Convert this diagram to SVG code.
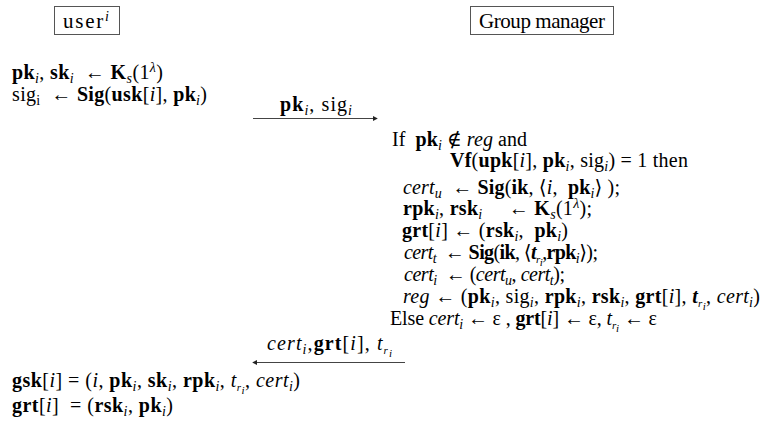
<svg xmlns="http://www.w3.org/2000/svg" width="763" height="428" viewBox="0 0 763 428">
  <style>
    .t { font-family: "Liberation Serif", "DejaVu Serif", serif; font-size: 20px; fill: #000; }
    .h { font-size: 21px; }
    .b { font-weight: bold; }
    .i { font-style: italic; }
    .bi { font-weight: bold; font-style: italic; }
    .s { font-size: 14px; font-style: italic; }
    .ss { font-size: 11px; font-style: italic; }
    .box { fill: #fff; stroke: #555; stroke-width: 1; }
    .msg { stroke: #444; stroke-width: 1; fill: none; }
  </style>
  <defs>
    <marker id="head" viewBox="0 0 6 6" refX="5" refY="3" markerWidth="5" markerHeight="5" orient="auto">
      <path d="M0,0 L6,3 L0,6 z" fill="#222"/>
    </marker>
  </defs>
  <rect width="763" height="428" fill="#fff"/>

  <!-- parties -->
  <g id="user">
    <rect class="box" x="54.5" y="6.5" width="65" height="28"/>
    <text class="t h" x="63" y="28" textLength="46" lengthAdjust="spacing">user<tspan class="s" baseline-shift="7">i</tspan></text>
  </g>
  <g id="manager">
    <rect class="box" x="470.5" y="6.5" width="143" height="28"/>
    <text class="t h" x="542" y="28" text-anchor="middle" textLength="126" lengthAdjust="spacing">Group manager</text>
  </g>

  <!-- user side: key generation and signature -->
  <g id="user-keys">
    <text class="t" x="12" y="79" textLength="151" lengthAdjust="spacing"><tspan class="b">pk</tspan><tspan class="s" baseline-shift="-4">i</tspan>, <tspan class="b">sk</tspan><tspan class="s" baseline-shift="-4">i</tspan>&#160; ← <tspan class="b">K</tspan><tspan class="s" baseline-shift="-4">s</tspan>(1<tspan class="s" baseline-shift="7">λ</tspan>)</text>
    <text class="t" x="12" y="101" textLength="195" lengthAdjust="spacing">sig<tspan font-size="14" baseline-shift="-4">i</tspan>&#160; ← <tspan class="b">Sig</tspan>(<tspan class="b">usk</tspan>[<tspan class="i">i</tspan>], <tspan class="b">pk</tspan><tspan class="s" baseline-shift="-4">i</tspan>)</text>
  </g>

  <!-- manager side: checks and issuing -->
  <g id="manager-steps">
    <text class="t" x="392" y="146" textLength="135" lengthAdjust="spacing">If&#160; <tspan class="b">pk</tspan><tspan class="s" baseline-shift="-4">i</tspan> ∉ <tspan class="i">reg</tspan> and</text>
    <text class="t" x="450" y="167" textLength="238" lengthAdjust="spacing"><tspan class="b">Vf</tspan>(<tspan class="b">upk</tspan>[<tspan class="i">i</tspan>], <tspan class="b">pk</tspan><tspan class="s" baseline-shift="-4">i</tspan>, sig<tspan class="s" baseline-shift="-4">i</tspan>) = 1 then</text>
    <text class="t" x="403" y="194" textLength="217" lengthAdjust="spacing"><tspan class="i">cert</tspan><tspan class="s" baseline-shift="-4">u</tspan>&#160; ← <tspan class="b">Sig</tspan>(<tspan class="b">ik</tspan>, ⟨<tspan class="i">i</tspan>,&#160; <tspan class="b">pk</tspan><tspan class="s" baseline-shift="-4">i</tspan>⟩ );</text>
    <text class="t" x="403" y="215" textLength="189" lengthAdjust="spacing"><tspan class="b">rpk</tspan><tspan class="s" baseline-shift="-4">i</tspan>, <tspan class="b">rsk</tspan><tspan class="s" baseline-shift="-4">i</tspan>&#160;&#160;&#160;&#160; ← <tspan class="b">K</tspan><tspan class="s" baseline-shift="-4">s</tspan>(1<tspan class="s" baseline-shift="7">λ</tspan>);</text>
    <text class="t" x="402" y="237" textLength="166" lengthAdjust="spacing"><tspan class="b">grt</tspan>[<tspan class="i">i</tspan>] ← (<tspan class="b">rsk</tspan><tspan class="s" baseline-shift="-4">i</tspan>,&#160; <tspan class="b">pk</tspan><tspan class="s" baseline-shift="-4">i</tspan>)</text>
    <text class="t" x="404" y="259" textLength="194" lengthAdjust="spacing"><tspan class="i">cert</tspan><tspan class="s" baseline-shift="-4">t</tspan>&#160; ← <tspan class="b">Sig</tspan>(<tspan class="b">ik</tspan>, ⟨<tspan class="bi">t</tspan><tspan class="ss" baseline-shift="-4">r</tspan><tspan class="ss" baseline-shift="-7">i</tspan>,<tspan class="b">rpk</tspan><tspan class="s" baseline-shift="-4">i</tspan>⟩);</text>
    <text class="t" x="404" y="281" textLength="161" lengthAdjust="spacing"><tspan class="i">cert</tspan><tspan class="s" baseline-shift="-4">i</tspan>&#160; ← (<tspan class="i">cert</tspan><tspan class="s" baseline-shift="-4">u</tspan>, <tspan class="i">cert</tspan><tspan class="s" baseline-shift="-4">t</tspan>);</text>
    <text class="t" x="403" y="303" textLength="357" lengthAdjust="spacing"><tspan class="i">reg</tspan> ← (<tspan class="b">pk</tspan><tspan class="s" baseline-shift="-4">i</tspan>, sig<tspan class="s" baseline-shift="-4">i</tspan>, <tspan class="b">rpk</tspan><tspan class="s" baseline-shift="-4">i</tspan>, <tspan class="b">rsk</tspan><tspan class="s" baseline-shift="-4">i</tspan>, <tspan class="b">grt</tspan>[<tspan class="i">i</tspan>], <tspan class="bi">t</tspan><tspan class="ss" baseline-shift="-4">r</tspan><tspan class="ss" baseline-shift="-7">i</tspan>, <tspan class="i">cert</tspan><tspan class="s" baseline-shift="-4">i</tspan>)</text>
    <text class="t" x="390" y="325" textLength="267" lengthAdjust="spacing">Else <tspan class="i">cert</tspan><tspan class="s" baseline-shift="-4">i</tspan> ← ε , <tspan class="b">grt</tspan>[<tspan class="i">i</tspan>] ← ε, <tspan class="i">t</tspan><tspan class="ss" baseline-shift="-4">r</tspan><tspan class="ss" baseline-shift="-7">i</tspan> ← ε</text>
  </g>

  <!-- messages -->
  <g id="connectors">
    <line class="msg" x1="253" y1="118.5" x2="377" y2="118.5" marker-end="url(#head)"/>
    <line class="msg" x1="405" y1="362.5" x2="253" y2="362.5" marker-end="url(#head)"/>
  </g>
  <g id="labels">
    <text class="t" x="280" y="111" textLength="72" lengthAdjust="spacing"><tspan class="b">pk</tspan><tspan class="s" baseline-shift="-4">i</tspan>, sig<tspan class="s" baseline-shift="-4">i</tspan></text>
    <text class="t" x="267" y="350" textLength="125" lengthAdjust="spacing"><tspan class="i">cert</tspan><tspan class="s" baseline-shift="-4">i</tspan>,<tspan class="b">grt</tspan>[<tspan class="i">i</tspan>], <tspan class="i">t</tspan><tspan class="ss" baseline-shift="-4">r</tspan><tspan class="ss" baseline-shift="-7">i</tspan></text>
  </g>

  <!-- user side: resulting group keys -->
  <g id="user-result">
    <text class="t" x="12" y="387" textLength="288" lengthAdjust="spacing"><tspan class="b">gsk</tspan>[<tspan class="i">i</tspan>] = (<tspan class="i">i</tspan>, <tspan class="b">pk</tspan><tspan class="s" baseline-shift="-4">i</tspan>, <tspan class="b">sk</tspan><tspan class="s" baseline-shift="-4">i</tspan>, <tspan class="b">rpk</tspan><tspan class="s" baseline-shift="-4">i</tspan>, <tspan class="i">t</tspan><tspan class="ss" baseline-shift="-4">r</tspan><tspan class="ss" baseline-shift="-7">i</tspan>, <tspan class="i">cert</tspan><tspan class="s" baseline-shift="-4">i</tspan>)</text>
    <text class="t" x="12" y="412" textLength="161" lengthAdjust="spacing"><tspan class="b">grt</tspan>[<tspan class="i">i</tspan>]&#160; = (<tspan class="b">rsk</tspan><tspan class="s" baseline-shift="-4">i</tspan>, <tspan class="b">pk</tspan><tspan class="s" baseline-shift="-4">i</tspan>)</text>
  </g>
</svg>
